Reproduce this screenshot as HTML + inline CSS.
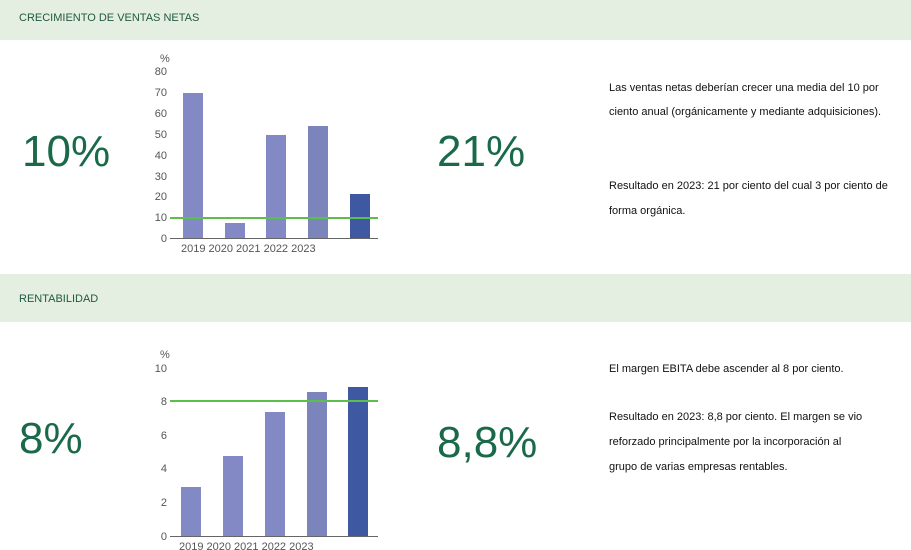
<!DOCTYPE html>
<html><head><meta charset="utf-8"><style>
body{margin:0;width:911px;height:550px;background:#fff;position:relative;overflow:hidden;font-family:"Liberation Sans",Arial,sans-serif}
.band{position:absolute;left:0;width:911px;background:#e4efe1}
.h{position:absolute;left:19px;font-size:11px;color:#1f5a3e}
.big{position:absolute;font-size:44px;color:#1a6a4a;line-height:1}
.t{position:absolute;left:609px;font-size:11px;color:#111;white-space:nowrap}
svg{position:absolute;left:0;top:0}
</style></head><body>
<div class="band" style="top:0;height:40px"></div>
<div class="band" style="top:274px;height:48px"></div>
<div class="h" style="top:12px">CRECIMIENTO DE VENTAS NETAS</div>
<div class="h" style="top:293px">RENTABILIDAD</div>
<div class="big" style="left:22px;top:130px">10%</div>
<div class="big" style="left:437px;top:130px">21%</div>
<div class="big" style="left:19px;top:417px">8%</div>
<div class="big" style="left:437px;top:421px">8,8%</div>
<div class="t" style="top:82px">Las ventas netas deberían crecer una media del 10 por</div>
<div class="t" style="top:106px">ciento anual (orgánicamente y mediante adquisiciones).</div>
<div class="t" style="top:180px">Resultado en 2023: 21 por ciento del cual 3 por ciento de</div>
<div class="t" style="top:205px">forma orgánica.</div>
<div class="t" style="top:363px">El margen EBITA debe ascender al 8 por ciento.</div>
<div class="t" style="top:411px">Resultado en 2023: 8,8 por ciento. El margen se vio</div>
<div class="t" style="top:436px">reforzado principalmente por la incorporación al</div>
<div class="t" style="top:461px">grupo de varias empresas rentables.</div>
<svg width="911" height="550" font-family="Liberation Sans, Arial, sans-serif" font-size="11" fill="#555">
<text x="160" y="62">%</text>
<g text-anchor="end">
<text x="167" y="75">80</text><text x="167" y="96">70</text><text x="167" y="117">60</text><text x="167" y="138">50</text><text x="167" y="159">40</text><text x="167" y="180">30</text><text x="167" y="200">20</text><text x="167" y="221">10</text><text x="167" y="242">0</text>
</g>
<rect x="183" y="93" width="20" height="145" fill="#8289c4"/>
<rect x="225" y="223" width="20" height="15" fill="#8289c4"/>
<rect x="266" y="135" width="20" height="103" fill="#8289c4"/>
<rect x="308" y="126" width="20" height="112" fill="#7c84bc"/>
<rect x="350" y="194" width="20" height="44" fill="#3f58a2"/>
<line x1="170" y1="238.5" x2="378" y2="238.5" stroke="#666" stroke-width="1"/>
<line x1="170" y1="218" x2="378" y2="218" stroke="#5cbf4a" stroke-width="2"/>
<text x="181" y="252">2019 2020 2021 2022 2023</text>

<text x="160" y="358">%</text>
<g text-anchor="end">
<text x="167" y="372">10</text><text x="167" y="405">8</text><text x="167" y="439">6</text><text x="167" y="472">4</text><text x="167" y="506">2</text><text x="167" y="540">0</text>
</g>
<rect x="181" y="487" width="20" height="49" fill="#8289c4"/>
<rect x="223" y="456" width="20" height="80" fill="#8289c4"/>
<rect x="265" y="412" width="20" height="124" fill="#8289c4"/>
<rect x="307" y="392" width="20" height="144" fill="#7c84bc"/>
<rect x="348" y="387" width="20" height="149" fill="#3f58a2"/>
<line x1="170" y1="536.5" x2="378" y2="536.5" stroke="#666" stroke-width="1"/>
<line x1="170" y1="401" x2="378" y2="401" stroke="#5cbf4a" stroke-width="2"/>
<text x="179" y="550">2019 2020 2021 2022 2023</text>
</svg>
</body></html>
